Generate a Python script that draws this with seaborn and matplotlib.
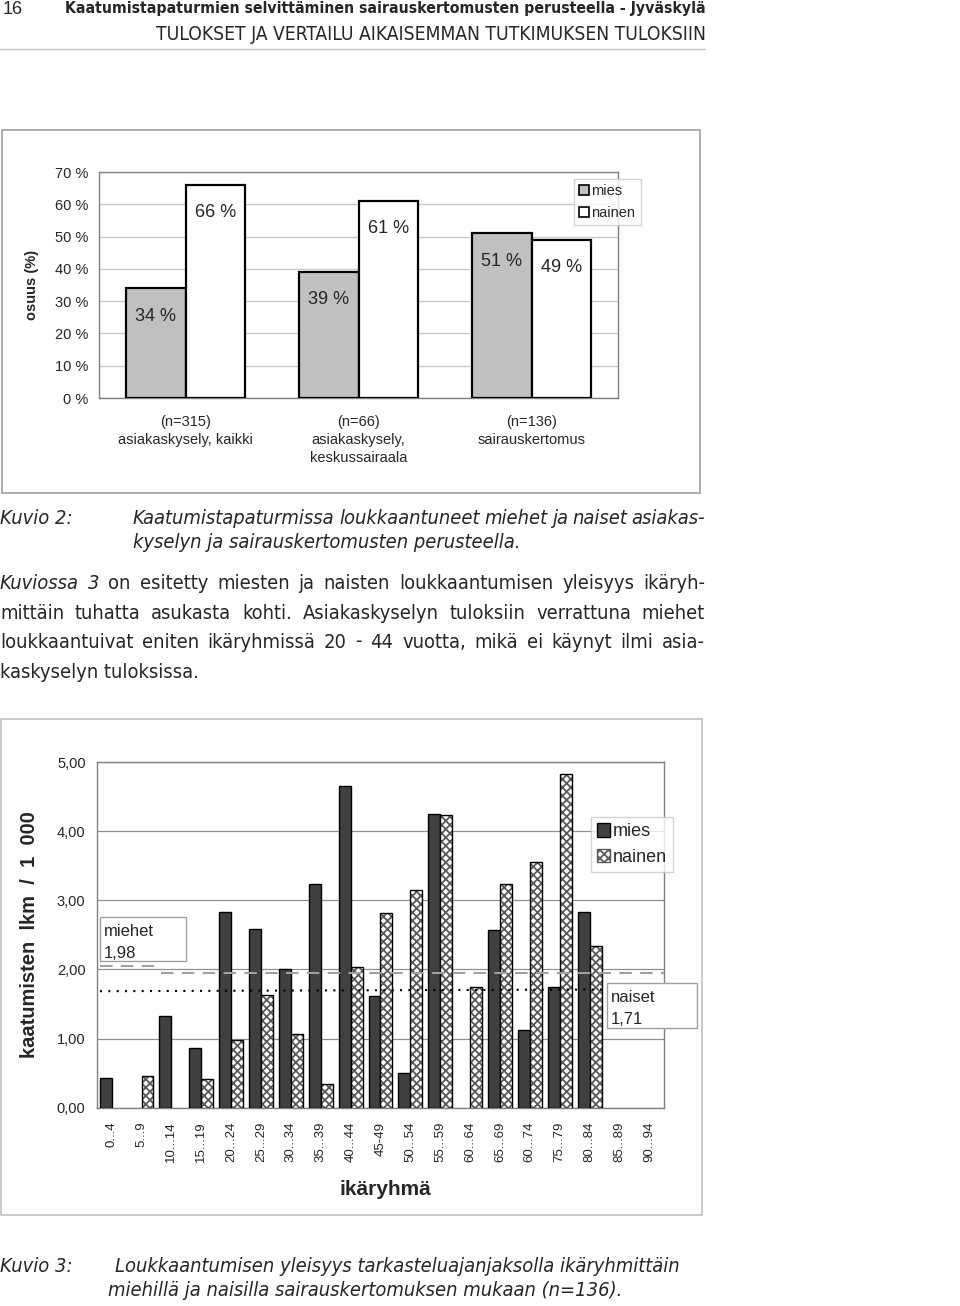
import numpy as np
import pandas as pd
import matplotlib
matplotlib.use("Agg")
import matplotlib.pyplot as plt
import seaborn as sns
from matplotlib.patches import Rectangle, Patch
from matplotlib.lines import Line2D
from matplotlib import font_manager as fm
from matplotlib.font_manager import FontProperties

# ---------------- data: chart 1 (Kuvio 2) ----------------
groups1 = ["(n=315)\nasiakaskysely, kaikki",
           "(n=66)\nasiakaskysely,\nkeskussairaala",
           "(n=136)\nsairauskertomus"]
mies1 = [0.34, 0.39, 0.51]
nainen1 = [0.66, 0.61, 0.49]
yticks1 = [0.0, 0.1, 0.2, 0.3, 0.4, 0.5, 0.6, 0.7]
yticklabels1 = ["0 %", "10 %", "20 %", "30 %", "40 %", "50 %", "60 %", "70 %"]

# ---------------- data: chart 2 (Kuvio 3) ----------------
ages = ["0...4", "5...9", "10...14", "15...19", "20...24", "25...29", "30...34",
        "35...39", "40...44", "45-49", "50...54", "55...59", "60...64", "65...69",
        "60...74", "75...79", "80...84", "85...89", "90...94"]
nan = np.nan
mies2 = [0.43, nan, 1.32, 0.86, 2.83, 2.59, 2.01, 3.24, 4.66, 1.61, 0.50, 4.25,
         nan, 2.57, 1.12, 1.75, 2.83, nan, nan]
nainen2 = [nan, 0.46, nan, 0.41, 0.98, 1.63, 1.06, 0.35, 2.03, 2.81, 3.15, 4.23,
           1.75, 3.23, 3.56, 4.82, 2.34, nan, nan]
yticks2 = [0, 1, 2, 3, 4, 5]
yticklabels2 = ["0,00", "1,00", "2,00", "3,00", "4,00", "5,00"]
miehet_label = "miehet\n1,98"
naiset_label = "naiset\n1,71"
miehet_line_short = 2.05
miehet_line_long = 1.95
naiset_line = (1.685, 1.71)

# ---------------- fonts ----------------
sns.set_style("white")
names = {f.name for f in fm.fontManager.ttflist}
CHART = "Liberation Sans" if "Liberation Sans" in names else "DejaVu Sans"
plt.rcParams["font.family"] = [CHART, "DejaVu Sans"]
plt.rcParams["hatch.linewidth"] = 1.3

COND = ("condensed", "semi-condensed", "extra-condensed", "ultra-condensed")
PREF = ["liberation sans narrow", "arial narrow", "dejavu sans", "noto sans",
        "open sans", "roboto", "lato", "inter"]


def _is_cond(f):
    nm = f.name.lower()
    return (f.stretch in COND) or ("narrow" in nm) or ("condensed" in nm)


def _rank(f):
    nm = f.name.lower()
    if "mono" in nm or "cjk" in nm or ("serif" in nm and "sans" not in nm):
        return 999
    r = 50
    for i, p in enumerate(PREF):
        if nm.startswith(p):
            r = i
            break
    if f.stretch == "condensed" or "narrow" in nm or nm.endswith("condensed"):
        r -= 0.5
    return r


cond_faces = [f for f in fm.fontManager.ttflist if _is_cond(f) and _rank(f) < 999]
BODY_FILES = {}
if cond_faces:
    best = min(cond_faces, key=_rank)
    fam = [f for f in cond_faces if f.name == best.name and f.stretch == best.stretch]
    for st in ("normal", "italic"):
        for wt in ("normal", "bold"):
            cands = [f for f in fam if (f.style in ("italic", "oblique")) == (st == "italic")
                     and ((f.weight in (700, "bold")) if wt == "bold"
                          else (f.weight in (400, "normal", "regular")))]
            if not cands:
                cands = [f for f in fam if (f.style in ("italic", "oblique")) == (st == "italic")] or fam
            BODY_FILES[(st, wt)] = cands[0].fname

W, H = 960, 1306
fig = plt.figure(figsize=(W / 100, H / 100), dpi=100)
fig.patch.set_facecolor("white")


def fx(x):
    return x / W


def fy(y):
    return 1 - y / H


R = fig.canvas.get_renderer()


def put(x, y, s, size, ha="left", va="center", body=False, style="normal",
        weight="normal", **kw):
    if body and BODY_FILES:
        fp = FontProperties(fname=BODY_FILES[(style, weight)], size=size)
        return fig.text(fx(x), fy(y), s, ha=ha, va=va, fontproperties=fp, **kw)
    return fig.text(fx(x), fy(y), s, fontsize=size, ha=ha, va=va,
                    family=[CHART, "DejaVu Sans"], style=style, weight=weight, **kw)


def fit(x0, x1, y, s, size, **kw):
    t = put(x0, y, s, size, **kw)
    w = t.get_window_extent(R).width
    ns = size * (x1 - x0) / w
    t.set_fontsize(ns)
    return ns


def justify(x0, x1, y, words, size, **kw):
    ts = [put(x0, y, w, size, style=st, **kw) for w, st in words]
    ws = [t.get_window_extent(R).width for t in ts]
    gap = (x1 - x0 - sum(ws)) / (len(ts) - 1)
    x = x0
    for t, w in zip(ts, ws):
        t.set_x(fx(x))
        x += w + gap


def frame(x0, y0, x1, y1, color, lw=1.0, fill=False, z=0.5):
    r = Rectangle((fx(x0), fy(y1)), fx(x1) - fx(x0), fy(y0) - fy(y1),
                  transform=fig.transFigure, fill=fill, facecolor="white",
                  edgecolor=color, lw=lw, zorder=z)
    fig.add_artist(r)


# ---------------- page header ----------------
put(3, 10, "16", 13)
fit(65, 702, 9, "Kaatumistapaturmien selvittäminen sairauskertomusten perusteella - Jyväskylä",
    12, body=True, weight="bold")
fit(156, 702, 34, "TULOKSET JA VERTAILU AIKAISEMMAN TUTKIMUKSEN TULOKSIIN", 12, body=True)
fig.add_artist(Line2D([0, fx(705)], [fy(49), fy(49)], transform=fig.transFigure,
                      color="#c0c0c0", lw=1))

# ---------------- chart 1 ----------------
frame(2, 130, 700, 493, "#a0a0a0", lw=1.2)
ax1 = fig.add_axes([fx(99), fy(398), (618 - 99) / W, (398 - 172) / H])
df1 = pd.DataFrame({"ryhma": groups1 * 2,
                    "sukupuoli": ["mies"] * 3 + ["nainen"] * 3,
                    "osuus": mies1 + nainen1})
sns.barplot(data=df1, x="ryhma", y="osuus", hue="sukupuoli", hue_order=["mies", "nainen"],
            palette={"mies": "#c0c0c0", "nainen": "#ffffff"}, width=0.69, gap=0,
            edgecolor="black", linewidth=1.6, saturation=1, errorbar=None,
            legend=False, ax=ax1, zorder=3)
ax1.set_ylim(0, 0.7)
ax1.set_xlim(-0.5, 2.5)
ax1.set_yticks(yticks1)
ax1.set_yticklabels(yticklabels1)
ax1.set_axisbelow(True)
ax1.yaxis.grid(True, color="#c8c8c8", lw=1)
for s in ax1.spines.values():
    s.set_color("#808080")
    s.set_linewidth(1.0)
ax1.tick_params(axis="y", length=3, color="#808080", labelsize=10.5, pad=5)
ax1.set_xticks(np.arange(-0.5, 3, 1), minor=True)
ax1.tick_params(axis="x", which="major", length=0, labelsize=10.5, pad=12)
ax1.tick_params(axis="x", which="minor", length=5, color="#808080", direction="out")
for lab in ax1.get_xticklabels():
    lab.set_linespacing(1.4)
ax1.set_xlabel("")
ax1.set_ylabel("osuus (%)", fontsize=10.5, fontweight="bold")
ax1.yaxis.set_label_coords((39 - 99) / 519, 0.5)
for cont in ax1.containers:
    for bar in cont:
        h = bar.get_height()
        ax1.annotate(f"{h * 100:.0f} %", (bar.get_x() + bar.get_width() / 2, h),
                     xytext=(0, -20), textcoords="offset points",
                     ha="center", va="center", fontsize=13, zorder=5)
h1 = [Patch(facecolor="#c0c0c0", edgecolor="black", lw=1.2),
      Patch(facecolor="white", edgecolor="black", lw=1.2)]
ax1.legend(h1, ["mies", "nainen"], loc="upper left",
           bbox_to_anchor=(fx(574), fy(179)), bbox_transform=fig.transFigure,
           frameon=True, fancybox=False, edgecolor="#c8c8c8", fontsize=10.5,
           handlelength=0.7, handleheight=0.7, handletextpad=0.15,
           borderpad=0.35, labelspacing=0.55, borderaxespad=0)

# ---------------- text between charts ----------------
body = fit(115, 678, 1266, "Loukkaantumisen yleisyys tarkasteluajanjaksolla ikäryhmittäin",
           13, body=True, style="italic")
put(0, 1266, "Kuvio 3:", body, body=True, style="italic")
put(108, 1291, "miehillä ja naisilla sairauskertomuksen mukaan (n=136).", body,
    body=True, style="italic")

put(0, 518, "Kuvio 2:", body, body=True, style="italic")
justify(133, 705, 518, [(w, "italic") for w in
        "Kaatumistapaturmissa loukkaantuneet miehet ja naiset asiakas-".split()],
        body, body=True)
put(133, 543, "kyselyn ja sairauskertomusten perusteella.", body, body=True, style="italic")

para = [
    [("Kuviossa", "italic"), ("3", "italic")] +
    [(w, "normal") for w in "on esitetty miesten ja naisten loukkaantumisen yleisyys ikäryh-".split()],
    [(w, "normal") for w in "mittäin tuhatta asukasta kohti. Asiakaskyselyn tuloksiin verrattuna miehet".split()],
    [(w, "normal") for w in "loukkaantuivat eniten ikäryhmissä 20 - 44 vuotta, mikä ei käynyt ilmi asia-".split()],
]
for yy, words in zip([583, 613, 642], para):
    justify(0, 705, yy, words, body, body=True)
put(0, 672, "kaskyselyn tuloksissa.", body, body=True)

# ---------------- chart 2 ----------------
frame(1, 719, 702, 1215, "#c0c0c0", lw=1.2)
ax2 = fig.add_axes([fx(96.7), fy(1107.7), (664.3 - 96.7) / W, (1107.7 - 762) / H])
df2 = pd.DataFrame({"ika": ages * 2,
                    "sukupuoli": ["mies"] * len(ages) + ["nainen"] * len(ages),
                    "arvo": mies2 + nainen2})
sns.barplot(data=df2, x="ika", y="arvo", hue="sukupuoli", hue_order=["mies", "nainen"],
            order=ages, palette={"mies": "#404040", "nainen": "#ffffff"}, width=0.8, gap=0,
            edgecolor="black", linewidth=1.0, saturation=1, errorbar=None,
            legend=False, ax=ax2, zorder=3)
for bar in ax2.containers[1]:
    bar.set_hatch("xxxx")
    bar.set_edgecolor("#5a5a5a")
    bar.set_linewidth(0)
    ax2.add_patch(Rectangle((bar.get_x(), 0), bar.get_width(), bar.get_height(),
                            fill=False, edgecolor="black", lw=1.0, zorder=4))
ax2.set_ylim(0, 5)
ax2.set_xlim(-0.5, len(ages) - 0.5)
ax2.set_yticks(yticks2)
ax2.set_yticklabels(yticklabels2)
ax2.set_axisbelow(True)
ax2.yaxis.grid(True, color="#909090", lw=0.9)
for s in ax2.spines.values():
    s.set_color("#808080")
    s.set_linewidth(1.0)
ax2.tick_params(axis="y", length=3, color="#808080", labelsize=10.5, pad=5)
ax2.set_xticks(np.arange(-0.5, len(ages), 1), minor=True)
ax2.tick_params(axis="x", which="major", length=0, labelsize=9.5, pad=10, rotation=90)
ax2.tick_params(axis="x", which="minor", length=4, color="#808080", direction="out")
ax2.set_ylabel("kaatumisten  lkm  /  1  000", fontsize=14.5, fontweight="bold")
ax2.yaxis.set_label_coords((39 - 96.7) / 567.6, 0.5)
ax2.set_xlabel("ikäryhmä", fontsize=15, fontweight="bold")
ax2.xaxis.set_label_coords((385 - 96.7) / 567.6, (1107.7 - 1180) / 345.7)

# average lines
ax2.plot([-0.39, 1.49], [miehet_line_short] * 2, color="#a0a0a0", lw=1.5,
         dashes=(6, 4), zorder=5)
ax2.plot([1.65, len(ages) - 0.5], [miehet_line_long] * 2, color="#a0a0a0", lw=1.5,
         dashes=(6, 4), zorder=5)
ax2.plot([-0.39, 16.5], list(naiset_line), color="black", lw=1.5,
         dashes=(1, 3), zorder=5)

h2 = [Patch(facecolor="#404040", edgecolor="black", lw=1.0),
      Patch(facecolor="white", edgecolor="#5a5a5a", hatch="xxxx", lw=1.0)]
ax2.legend(h2, ["mies", "nainen"], loc="upper left",
           bbox_to_anchor=(fx(591), fy(817)), bbox_transform=fig.transFigure,
           frameon=True, fancybox=False, edgecolor="#c8c8c8", fontsize=13,
           handlelength=0.7, handleheight=0.8, handletextpad=0.15,
           borderpad=0.35, labelspacing=0.45, borderaxespad=0)

# label boxes
frame(100, 917, 186, 961, "#a0a0a0", lw=1.0, fill=True, z=2)
for i, s in enumerate(miehet_label.split("\n")):
    put(104, 932 + 21 * i, s, 12, zorder=3)
frame(607, 983, 697, 1028, "#a0a0a0", lw=1.0, fill=True, z=2)
for i, s in enumerate(naiset_label.split("\n")):
    put(611, 998 + 22 * i, s, 12, zorder=3)

fig.savefig("out.png", dpi=100, facecolor="white")
